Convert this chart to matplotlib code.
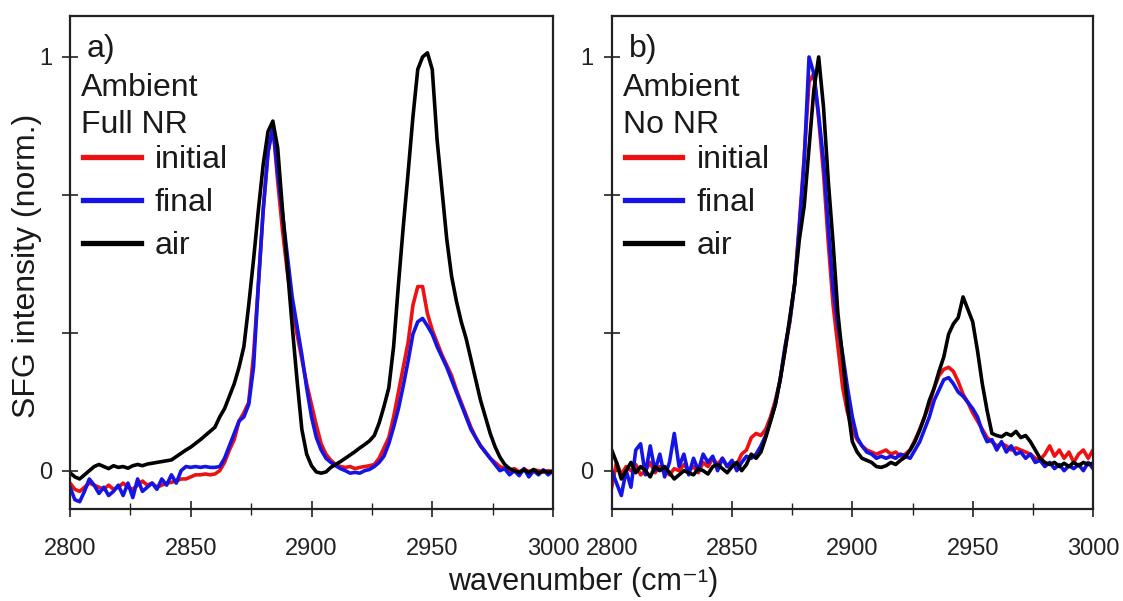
import numpy as np
import matplotlib
matplotlib.use("Agg")
import matplotlib.pyplot as plt
from matplotlib.ticker import FixedLocator, MultipleLocator

plt.rcParams['font.family'] = ['Liberation Sans', 'DejaVu Sans']

# wavenumber grid shared by every spectrum (cm^-1)
wavenumber = np.arange(2800, 3001, 2)

# ---- panel a) ambient, full non-resonant background ----
a_initial = [
    -0.030, -0.045, -0.050, -0.040, -0.030, -0.035, -0.040, -0.045, -0.035, -0.045,
    -0.040, -0.030, -0.040, -0.045, -0.035, -0.025, -0.035, -0.030, -0.040, -0.035,
    -0.030, -0.028, -0.025, -0.020, -0.020, -0.015, -0.010, -0.010, -0.008, -0.010,
    -0.008, 0.000, 0.020, 0.050, 0.075, 0.120, 0.140, 0.165, 0.280, 0.450,
    0.630, 0.770, 0.835, 0.700, 0.580, 0.480, 0.400, 0.330, 0.270, 0.210,
    0.160, 0.110, 0.065, 0.040, 0.025, 0.015, 0.010, 0.008, 0.010, 0.005,
    0.008, 0.010, 0.012, 0.015, 0.030, 0.055, 0.080, 0.130, 0.190, 0.250,
    0.310, 0.400, 0.445, 0.445, 0.380, 0.340, 0.310, 0.280, 0.255, 0.230,
    0.195, 0.165, 0.135, 0.105, 0.080, 0.060, 0.045, 0.030, 0.020, 0.010,
    0.005, 0.000, 0.005, -0.003, 0.004, -0.002, 0.002, 0.000, -0.004, 0.000,
    -0.002,
]
a_final = [
    -0.040, -0.070, -0.075, -0.050, -0.020, -0.035, -0.055, -0.040, -0.060, -0.050,
    -0.035, -0.060, -0.030, -0.065, -0.020, -0.050, -0.040, -0.030, -0.045, -0.020,
    -0.035, -0.010, -0.030, 0.000, 0.010, 0.008, 0.010, 0.008, 0.010, 0.008,
    0.008, 0.010, 0.030, 0.060, 0.090, 0.120, 0.130, 0.160, 0.250, 0.450,
    0.630, 0.770, 0.830, 0.720, 0.620, 0.520, 0.420, 0.350, 0.280, 0.200,
    0.130, 0.080, 0.050, 0.030, 0.020, 0.012, 0.005, 0.000, -0.006, -0.004,
    -0.006, 0.000, 0.003, 0.010, 0.020, 0.035, 0.065, 0.105, 0.150, 0.205,
    0.265, 0.330, 0.360, 0.368, 0.350, 0.330, 0.300, 0.275, 0.250, 0.220,
    0.190, 0.160, 0.130, 0.100, 0.080, 0.060, 0.045, 0.030, 0.015, 0.000,
    0.005, -0.010, 0.000, -0.012, 0.005, -0.015, 0.000, -0.010, 0.002, -0.010,
    0.000,
]
a_air = [
    -0.005, -0.015, -0.020, -0.010, 0.000, 0.010, 0.015, 0.010, 0.005, 0.012,
    0.008, 0.010, 0.006, 0.012, 0.015, 0.012, 0.016, 0.018, 0.020, 0.022,
    0.024, 0.026, 0.034, 0.042, 0.050, 0.057, 0.066, 0.075, 0.085, 0.095,
    0.105, 0.130, 0.150, 0.180, 0.210, 0.250, 0.300, 0.400, 0.510, 0.630,
    0.740, 0.820, 0.845, 0.780, 0.630, 0.490, 0.350, 0.220, 0.100, 0.040,
    0.012, -0.003, -0.006, -0.003, 0.008, 0.015, 0.022, 0.030, 0.038, 0.046,
    0.055, 0.063, 0.072, 0.085, 0.115, 0.155, 0.200, 0.300, 0.450, 0.590,
    0.720, 0.855, 0.970, 1.000, 1.010, 0.970, 0.800, 0.680, 0.560, 0.470,
    0.410, 0.360, 0.320, 0.270, 0.220, 0.170, 0.130, 0.090, 0.058, 0.033,
    0.015, 0.005, 0.000, -0.004, 0.002, -0.005, 0.003, -0.006, 0.000, -0.004,
    -0.002,
]

# ---- panel b) ambient, non-resonant background suppressed ----
b_initial = [
    -0.040, 0.020, -0.010, 0.010, 0.000, 0.015, -0.010, 0.000, 0.020, -0.005,
    0.010, 0.000, -0.010, 0.005, 0.000, 0.015, 0.000, 0.010, -0.005, 0.020,
    0.010, 0.030, 0.015, 0.030, 0.010, 0.020, 0.015, 0.040, 0.050, 0.080,
    0.090, 0.085, 0.100, 0.130, 0.170, 0.220, 0.290, 0.360, 0.450, 0.600,
    0.760, 0.940, 0.960, 0.850, 0.720, 0.550, 0.400, 0.300, 0.200, 0.140,
    0.100, 0.075, 0.060, 0.050, 0.045, 0.040, 0.045, 0.050, 0.040, 0.045,
    0.035, 0.040, 0.050, 0.074, 0.100, 0.130, 0.160, 0.200, 0.230, 0.245,
    0.250, 0.240, 0.215, 0.185, 0.165, 0.140, 0.120, 0.100, 0.080, 0.070,
    0.060, 0.065, 0.060, 0.050, 0.055, 0.050, 0.045, 0.040, 0.030, 0.026,
    0.040, 0.060, 0.035, 0.050, 0.030, 0.045, 0.020, 0.040, 0.050, 0.030,
    0.050,
]
b_final = [
    0.000, -0.030, -0.060, 0.000, -0.040, 0.050, 0.065, -0.010, 0.060, 0.000,
    0.040, -0.015, 0.020, 0.090, 0.010, 0.040, -0.010, 0.030, 0.000, 0.040,
    0.020, 0.035, 0.000, 0.030, 0.010, 0.025, 0.000, 0.020, 0.035, 0.030,
    0.040, 0.060, 0.085, 0.120, 0.160, 0.220, 0.300, 0.360, 0.450, 0.590,
    0.750, 1.000, 0.960, 0.860, 0.750, 0.590, 0.440, 0.350, 0.280, 0.200,
    0.130, 0.080, 0.060, 0.045, 0.040, 0.030, 0.035, 0.030, 0.035, 0.030,
    0.040, 0.035, 0.030, 0.050, 0.070, 0.100, 0.130, 0.170, 0.195, 0.220,
    0.225, 0.210, 0.190, 0.180, 0.165, 0.150, 0.130, 0.095, 0.070, 0.075,
    0.050, 0.070, 0.045, 0.060, 0.040, 0.045, 0.030, 0.040, 0.020, 0.025,
    0.010, 0.020, 0.005, 0.015, 0.000, 0.012, 0.005, 0.015, 0.000, 0.020,
    0.005,
]
b_air = [
    0.050, 0.020, -0.020, 0.000, 0.020, -0.005, 0.010, 0.000, -0.015, 0.010,
    0.000, 0.010, -0.005, -0.020, -0.010, 0.000, -0.005, -0.010, 0.005, 0.000,
    -0.008, 0.010, 0.015, 0.005, -0.005, 0.010, 0.020, 0.000, 0.015, 0.040,
    0.030, 0.045, 0.080, 0.120, 0.160, 0.220, 0.290, 0.370, 0.450, 0.560,
    0.640, 0.780, 0.920, 1.000, 0.880, 0.700, 0.550, 0.380, 0.270, 0.155,
    0.070, 0.045, 0.030, 0.025, 0.020, 0.010, 0.008, 0.012, 0.020, 0.015,
    0.025, 0.033, 0.050, 0.070, 0.098, 0.130, 0.170, 0.200, 0.240, 0.275,
    0.330, 0.355, 0.370, 0.420, 0.390, 0.360, 0.290, 0.210, 0.145, 0.090,
    0.085, 0.082, 0.090, 0.085, 0.095, 0.080, 0.085, 0.070, 0.050, 0.030,
    0.020, 0.015, 0.020, 0.010, 0.018, 0.010, 0.020, 0.012, 0.020, 0.015,
    0.018,
]

series_labels = ["initial", "final", "air"]
series_colors = ["#ee1111", "#1414e6", "#000000"]
panels = [
    ("a)", ["Ambient", "Full NR"], [a_initial, a_final, a_air]),
    ("b)", ["Ambient", "No NR"], [b_initial, b_final, b_air]),
]

fig = plt.figure(figsize=(11.23, 6.01), dpi=100)
ax_rects = [
    [70 / 1123, 92 / 601, 483 / 1123, 493 / 601],
    [611.7 / 1123, 92 / 601, 481.3 / 1123, 493 / 601],
]
text_col = '#1a1a1a'

for rect, (tag, cond, data) in zip(ax_rects, panels):
    ax = fig.add_axes(rect)
    for y, lab, col in zip(data, series_labels, series_colors):
        ax.plot(wavenumber, y, color=col, lw=2.6, label=lab,
                solid_joinstyle='round')
    ax.set_xlim(2800, 3000)
    ax.set_ylim(-0.0926, 1.099)

    ax.xaxis.set_major_locator(MultipleLocator(50))
    ax.xaxis.set_minor_locator(FixedLocator([2825, 2875, 2925, 2975]))
    ax.yaxis.set_major_locator(FixedLocator([0, 1 / 3, 2 / 3, 1]))
    ax.set_yticklabels(["0", "", "", "1"])
    ax.tick_params(axis='both', which='major', direction='inout', length=12,
                   width=1.2, labelsize=17, colors='#222222')
    ax.tick_params(axis='x', which='major', pad=15)
    ax.tick_params(axis='y', which='major', pad=7)
    ax.tick_params(axis='x', which='minor', direction='inout', length=8,
                   width=1.0, color='#222222')
    for sp in ax.spines.values():
        sp.set_linewidth(1.6)
        sp.set_color('#222222')

    ax.text(0.035, 0.917, tag, transform=ax.transAxes, fontsize=23,
            ha='left', va='baseline', color=text_col)
    ax.text(0.023, 0.838, cond[0], transform=ax.transAxes, fontsize=23,
            ha='left', va='baseline', color=text_col)
    ax.text(0.023, 0.763, cond[1], transform=ax.transAxes, fontsize=23,
            ha='left', va='baseline', color=text_col)

    leg = ax.legend(loc='upper left', bbox_to_anchor=(0.027, 0.738),
                    frameon=False, fontsize=23, handlelength=1.8,
                    handletextpad=0.45, labelspacing=0.4, borderpad=0.0,
                    borderaxespad=0.0)
    for h in leg.get_lines():
        h.set_linewidth(3.8)
    for t in leg.get_texts():
        t.set_color(text_col)

fig.text(27 / 1123, 1 - 266 / 601, "SFG intensity (norm.)", rotation=90,
         ha='center', va='center', fontsize=23, color=text_col)
fig.text(583 / 1123, 1 - 582 / 601, "wavenumber (cm\u207b\u00b9)",
         ha='center', va='center', fontsize=22, color=text_col)

fig.savefig("out.png", dpi=100, facecolor='white')
